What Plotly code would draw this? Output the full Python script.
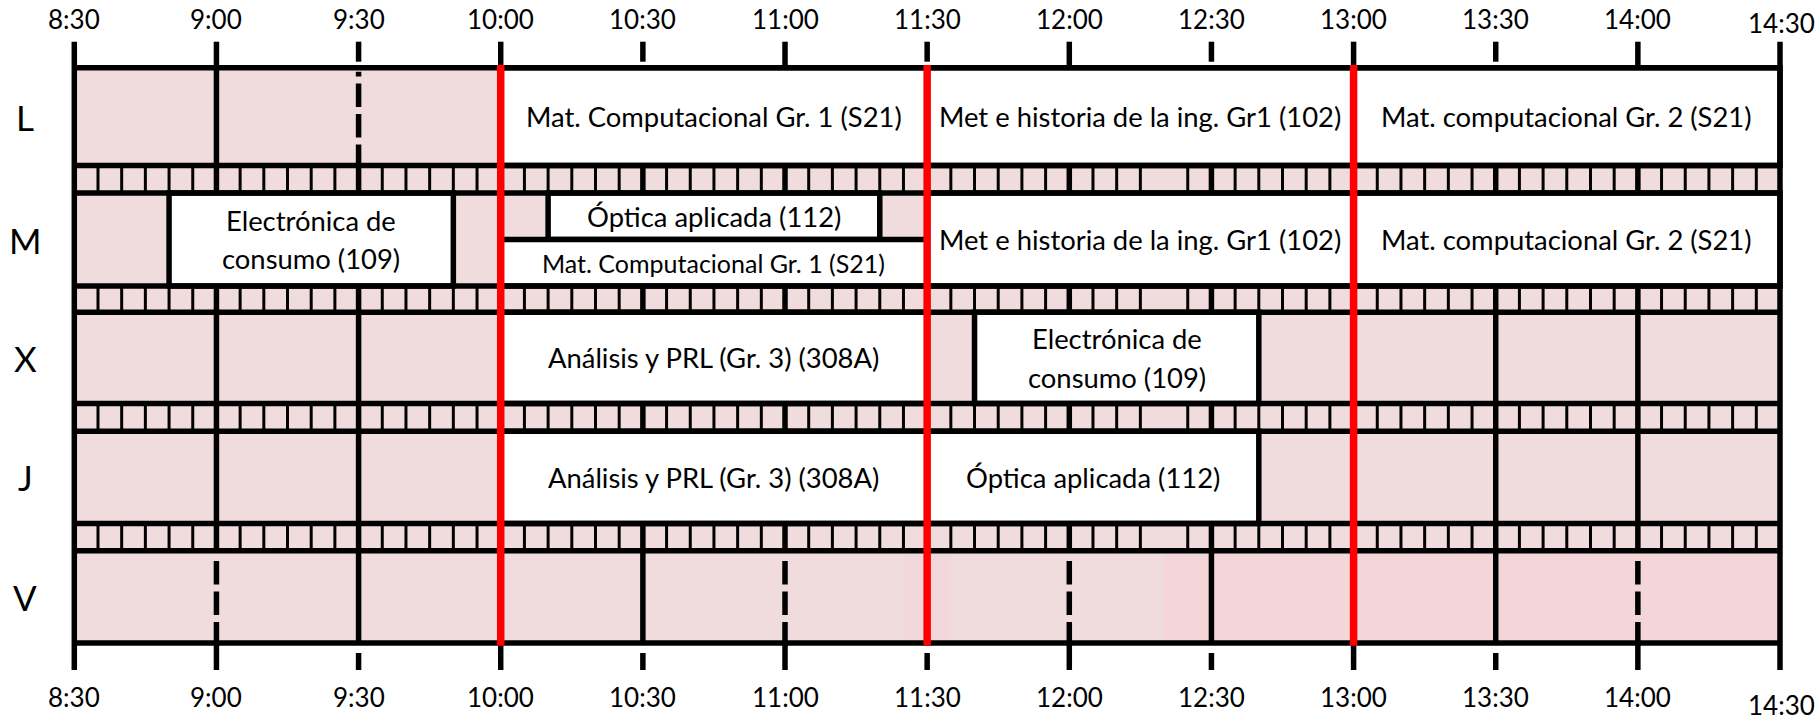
import plotly.graph_objects as go

# ---------------- data ----------------
days = ["L", "M", "X", "J", "V"]
tick_labels = ["8:30", "9:00", "9:30", "10:00", "10:30", "11:00", "11:30",
               "12:00", "12:30", "13:00", "13:30", "14:00", "14:30"]

class_day = ["L", "L", "L", "M", "M", "M", "M", "M", "X", "X", "J", "J"]
class_start = ["10:00", "11:30", "13:00", "8:50", "10:10", "10:00", "11:30", "13:00",
               "10:00", "11:40", "10:00", "11:30"]
class_end = ["11:30", "13:00", "14:30", "9:50", "11:20", "11:30", "13:00", "14:30",
             "11:30", "12:40", "11:30", "12:40"]
class_part = ["full", "full", "full", "full", "top", "bottom", "full", "full",
              "full", "full", "full", "full"]
class_name = ["Mat. Computacional Gr. 1 (S21)",
              "Met e historia de la ing. Gr1 (102)",
              "Mat. computacional Gr. 2 (S21)",
              "Electrónica de\nconsumo (109)",
              "Óptica aplicada (112)",
              "Mat. Computacional Gr. 1 (S21)",
              "Met e historia de la ing. Gr1 (102)",
              "Mat. computacional Gr. 2 (S21)",
              "Análisis y PRL (Gr. 3) (308A)",
              "Electrónica de\nconsumo (109)",
              "Análisis y PRL (Gr. 3) (308A)",
              "Óptica aplicada (112)"]

red_times = ["10:00", "11:30", "13:00"]
dashed_day = ["L", "V", "V", "V", "V"]
dashed_time = ["9:30", "9:00", "11:00", "12:00", "14:00"]
skipped_divider = ["12:20"]
tint_day = ["V", "V"]
tint_start = ["11:25", "12:20"]
tint_end = ["11:35", "14:30"]


def hrs(t):
    h, m = t.split(":")
    return int(h) + int(m) / 60.0


# ---------------- layout / style constants ----------------
W, H = 1820, 720
X_LEFT_PX, X_RIGHT_PX = 74.3, 1780.0
t0, t1 = hrs(tick_labels[0]), hrs(tick_labels[-1])
PPH = (X_RIGHT_PX - X_LEFT_PX) / (t1 - t0)
XMIN = t0 - X_LEFT_PX / PPH
XMAX = t1 + (W - X_RIGHT_PX) / PPH


def px2x(px):
    return XMIN + px / PPH


ROW_TOP = [67.7, 193.0, 312.2, 431.2, 550.8]
ROW_BOT = [165.5, 286.0, 403.5, 523.5, 643.0]
TICK_TOP, TICK_BOT = 41.7, 670.0
SHORT_TOP_END, SHORT_BOT_START = 61.7, 653.0
BORDER_W = 5.5
THIN_W = 3.0
RED_W = 7.5
PINK = "#f0dcdc"
TINT_COLORS = ["#f2d8da", "#f4d6d8"]
FONT = "Lato"
BIG_FS, SMALL_FS, TICK_FS, DAY_FS = 27.4, 25, 26, 35

shapes = []
annotations = []


def vline(x, y0, y1, width=BORDER_W, color="black", dash="solid"):
    shapes.append(dict(type="line", xref="x", yref="y", x0=x, x1=x, y0=y0, y1=y1,
                       line=dict(color=color, width=width, dash=dash), layer="above"))


def hline(xa, xb, y, width=BORDER_W, color="black"):
    shapes.append(dict(type="line", xref="x", yref="y", x0=xa, x1=xb, y0=y, y1=y,
                       line=dict(color=color, width=width), layer="above"))


# pink background of the grid
shapes.append(dict(type="rect", xref="x", yref="y", x0=t0, x1=t1,
                   y0=ROW_TOP[0], y1=ROW_BOT[-1], fillcolor=PINK,
                   line=dict(width=0), layer="above"))
# tints
for d, s, e, c in zip(tint_day, tint_start, tint_end, TINT_COLORS):
    i = days.index(d)
    shapes.append(dict(type="rect", xref="x", yref="y", x0=hrs(s), x1=hrs(e),
                       y0=ROW_TOP[i], y1=ROW_BOT[i], fillcolor=c,
                       line=dict(width=0), layer="above"))

# separator strips with 5-minute cells
skip = [round(hrs(t) * 60) for t in skipped_divider]
n5 = int(round((t1 - t0) * 12))
for i in range(len(days) - 1):
    ya, yb = ROW_BOT[i], ROW_TOP[i + 1]
    for k in range(1, n5):
        minute = round(t0 * 60) + 5 * k
        if minute in skip:
            continue
        x = minute / 60.0
        w = BORDER_W if k % 6 == 0 else THIN_W
        vline(x, ya, yb, width=w)

# half-hour lines inside rows
inner_ticks = tick_labels[1:-1]
dashed = set(zip(dashed_day, dashed_time))
for i, d in enumerate(days):
    for t in inner_ticks:
        if t in red_times:
            continue
        if (d, t) in dashed:
            vline(hrs(t), ROW_BOT[i] + 2.5, ROW_TOP[i] + 4, dash="23.5px,7px")
        else:
            vline(hrs(t), ROW_TOP[i], ROW_BOT[i])

# class boxes
for d, s, e, part in zip(class_day, class_start, class_end, class_part):
    i = days.index(d)
    mid = (ROW_TOP[i] + ROW_BOT[i]) / 2
    ya, yb = ROW_TOP[i], ROW_BOT[i]
    if part == "top":
        yb = mid
    elif part == "bottom":
        ya = mid
    shapes.append(dict(type="rect", xref="x", yref="y", x0=hrs(s), x1=hrs(e),
                       y0=ya, y1=yb, fillcolor="white",
                       line=dict(color="black", width=BORDER_W), layer="above"))

# horizontal row borders
for i in range(len(days)):
    hline(t0, t1, ROW_TOP[i])
    hline(t0, t1, ROW_BOT[i])

# outer vertical borders
vline(t0, TICK_TOP, TICK_BOT)
vline(t1, TICK_TOP, TICK_BOT)

# ticks
for t in inner_ticks:
    full = t.endswith(":00")
    vline(hrs(t), TICK_TOP, ROW_TOP[0] if full else SHORT_TOP_END)
    vline(hrs(t), ROW_BOT[-1] if full else SHORT_BOT_START, TICK_BOT)

# red lines
for t in red_times:
    vline(hrs(t), ROW_TOP[0] - 2.7, ROW_BOT[-1] + 2.7, width=RED_W, color="#ff0000")

# tick labels
for t in tick_labels:
    last = t == tick_labels[-1]
    if last:
        xa, anchor = px2x(1815), "right"
    else:
        xa, anchor = hrs(t), "center"
    annotations.append(dict(x=xa, y=22.5 if last else 19, text=t, showarrow=False,
                            xref="x", yref="y", xanchor=anchor, yanchor="middle",
                            borderpad=0, borderwidth=0,
                            font=dict(family=FONT, size=TICK_FS, color="black")))
    bottom = dict(x=xa, y=705 if last else 697, text=t, showarrow=False,
                  xref="x", yref="y", xanchor=anchor, yanchor="middle",
                  borderpad=0, borderwidth=0,
                  font=dict(family=FONT, size=TICK_FS, color="black"))
    if last:
        bottom["height"] = 26
    annotations.append(bottom)

# day labels
for i, d in enumerate(days):
    annotations.append(dict(x=px2x(25), y=(ROW_TOP[i] + ROW_BOT[i]) / 2, text=d,
                            showarrow=False, xref="x", yref="y",
                            xanchor="center", yanchor="middle",
                            font=dict(family=FONT, size=DAY_FS, color="black")))

# class labels
for d, s, e, part, name in zip(class_day, class_start, class_end, class_part, class_name):
    i = days.index(d)
    mid = (ROW_TOP[i] + ROW_BOT[i]) / 2
    if part == "top":
        yc = (ROW_TOP[i] + mid) / 2
    elif part == "bottom":
        yc = (mid + ROW_BOT[i]) / 2
    else:
        yc = mid
    fs = SMALL_FS if part == "bottom" else BIG_FS
    lines = name.split("\n")
    gap = 38.5
    for j, ln in enumerate(lines):
        y = yc + (j - (len(lines) - 1) / 2) * gap
        annotations.append(dict(x=(hrs(s) + hrs(e)) / 2, y=y, text=ln, showarrow=False,
                                xref="x", yref="y", xanchor="center", yanchor="middle",
                                font=dict(family=FONT, size=fs, color="black")))

fig = go.Figure()
fig.update_layout(
    width=W, height=H, autosize=False,
    margin=dict(l=0, r=0, t=0, b=0, pad=0),
    paper_bgcolor="white", plot_bgcolor="white",
    xaxis=dict(range=[XMIN, XMAX], visible=False, fixedrange=True),
    yaxis=dict(range=[H, 0], visible=False, fixedrange=True),
    shapes=shapes, annotations=annotations, showlegend=False,
)
fig.write_html("out.html", config={"displayModeBar": False},
               post_script="document.body.style.margin='0';")
